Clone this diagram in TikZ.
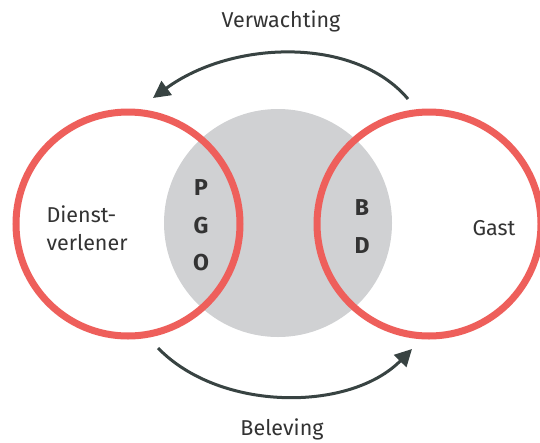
\documentclass[tikz,border=0pt]{standalone}
\usepackage{fontspec}
\setmainfont{Fira Sans}
\usetikzlibrary{arrows.meta}
\definecolor{ringred}{HTML}{EE5F5B}
\definecolor{discgray}{HTML}{D0D1D3}
\definecolor{arrowgray}{HTML}{384342}
\definecolor{txtgray}{HTML}{333333}
\tikzset{
  ring/.style={circle, draw=ringred, line width=7pt, minimum size=224pt, inner sep=0pt},
  disc/.style={circle, fill=discgray, minimum size=228pt, inner sep=0pt},
  flow/.style={draw=arrowgray, line width=3pt, -{Triangle[length=17pt,width=17pt]}},
  lbl/.style={text=txtgray, font=\fontsize{21.5}{28}\selectfont, align=left},
  letter/.style={text=txtgray, font=\fontsize{23}{26}\bfseries\selectfont}
}
\begin{document}
\begin{tikzpicture}[x=1pt, y=-1pt]
  \useasboundingbox[fill=white] (0,0) rectangle (540,442);
  % shared grey area between the two parties
  \node[disc] (mid) at (278,223) {};
  % the two parties
  \node[ring] (dienst) at (128,224) {};
  \node[ring] (gast) at (429,224) {};
  % labels
  \node[lbl, anchor=west] (dienstlbl) at (43,228) {Dienst-\\verlener};
  \node[lbl] (gastlbl) at (494,228) {Gast};
  \node[letter] (p) at (201,188) {P};
  \node[letter] (g) at (201,226) {G};
  \node[letter] (o) at (201,263) {O};
  \node[letter] (b) at (362,208) {B};
  \node[letter] (d) at (362,246) {D};
  \node[lbl] (verw) at (281,21) {Verwachting};
  \node[lbl] (bel) at (282,429) {Beleving};
  % arrow end points just outside the rings
  \coordinate (vstart) at (408,99);
  \coordinate (vend) at (153,98);
  \coordinate (bstart) at (158,348);
  \coordinate (bend) at (412,349);
  % expectation and experience flows
  \draw[flow] (vstart) .. controls (355,36) and (232,40) .. (vend);
  \draw[flow] (bstart) .. controls (220,412) and (350,412) .. (bend);
\end{tikzpicture}
\end{document}
